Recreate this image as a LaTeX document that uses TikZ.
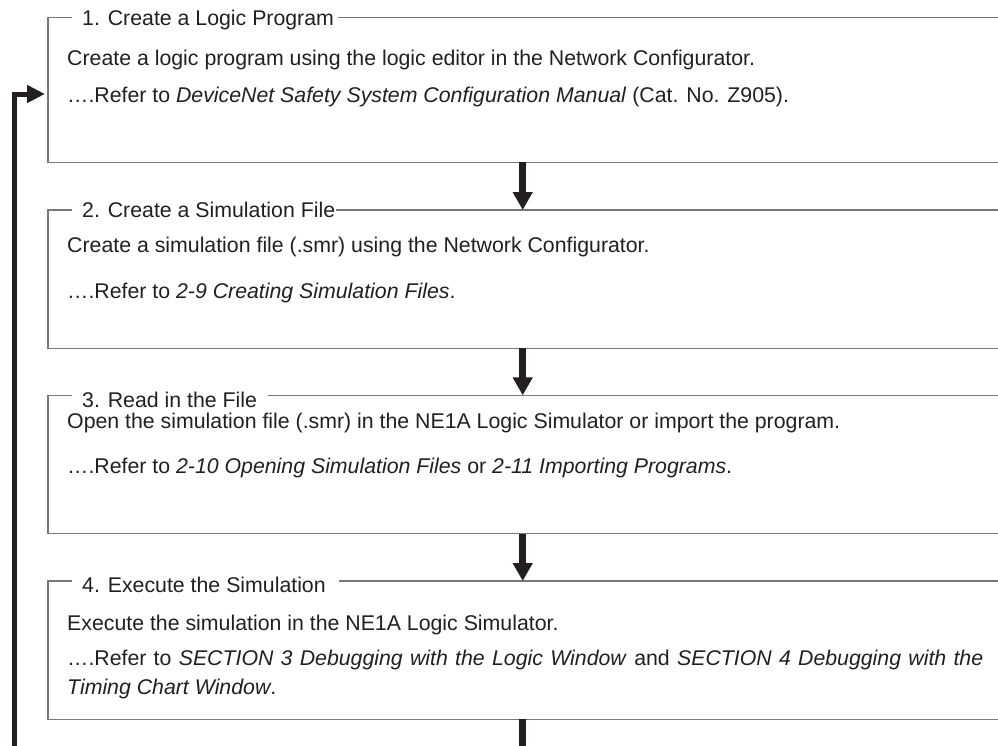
\documentclass[tikz,border=0pt]{standalone}
\usepackage{fontspec}
\setmainfont{Liberation Sans}
\usetikzlibrary{arrows.meta}
\definecolor{ink}{RGB}{35,31,32}
\definecolor{frame}{RGB}{120,120,120}
\begin{document}
\begin{tikzpicture}[x=1pt,y=-1pt,
  font=\fontsize{21.3}{25}\selectfont,
  boxline/.style={draw=frame, line width=1.3pt},
  txt/.style={anchor=base west, inner sep=0pt, text=ink},
  flow/.style={draw=ink, line width=6.5pt, -{Triangle[width=19pt,length=18pt]}},
  stub/.style={draw=ink, line width=6.5pt},
  loopback/.style={draw=ink, line width=5pt, line join=miter, -{Triangle[width=17pt,length=18pt]}}]
\useasboundingbox (0,0) rectangle (998,745);
\clip (0,0) rectangle (998,745);
% ---------- box 1
\draw[boxline] (72,17.7) -| (48,162.3) -- (1010,162.3);
\draw[boxline] (338,17.7) -- (1010,17.7);
\node[txt] (t1) at (82,25.5) {1. Create a Logic Program};
\node[txt] (a1) at (67,65.5) {Create a logic program using the logic editor in the Network Configurator.};
\node[txt] (r1) at (67,102.5) {….Refer to \textit{DeviceNet Safety System Configuration Manual} (Cat. No. Z905).};
\coordinate (b1s) at (522.7,162.3);
\coordinate (b1in) at (45,94);
% ---------- box 2
\draw[boxline] (72,210) -| (48,348.3) -- (1010,348.3);
\draw[boxline] (336,210) -- (1010,210);
\node[txt] (t2) at (82,217) {2. Create a Simulation File};
\node[txt] (a2) at (67,252.5) {Create a simulation file (.smr) using the Network Configurator.};
\node[txt] (r2) at (67,298.5) {….Refer to \textit{2-9 Creating Simulation Files}.};
\coordinate (b2n) at (522.7,210);
\coordinate (b2s) at (522.7,348.3);
% ---------- box 3
\draw[boxline] (72,395.3) -| (48,533.7) -- (1010,533.7);
\draw[boxline] (268,395.3) -- (1010,395.3);
\node[txt] (t3) at (82,407.5) {3. Read in the File};
\node[txt] (a3) at (67,428.5) {Open the simulation file (.smr) in the NE1A Logic Simulator or import the program.};
\node[txt] (r3) at (67,473.5) {….Refer to \textit{2-10 Opening Simulation Files} or \textit{2-11 Importing Programs}.};
\coordinate (b3n) at (522.7,395.3);
\coordinate (b3s) at (522.7,533.7);
% ---------- box 4
\draw[boxline] (72,581) -| (48,719.3) -- (1010,719.3);
\draw[boxline] (339,581) -- (1010,581);
\node[txt] (t4) at (82,592.5) {4. Execute the Simulation};
\node[txt] (a4) at (67,630.5) {Execute the simulation in the NE1A Logic Simulator.};
\node[txt] (r4) at (67,665.5) {\makebox[916pt][s]{….Refer to \textit{SECTION 3 Debugging with the Logic Window} and \textit{SECTION 4 Debugging with the}}};
\node[txt] (r4b) at (67,694.5) {\textit{Timing Chart Window}.};
\coordinate (b4n) at (522.7,581);
\coordinate (b4s) at (522.7,719.3);
\coordinate (bend) at (522.7,750);
\coordinate (loopstart) at (14,750);
% ---------- connectors
\draw[flow] (b1s) -- (b2n);
\draw[flow] (b2s) -- (b3n);
\draw[flow] (b3s) -- (b4n);
\draw[stub] (b4s) -- (bend);
\draw[loopback] (loopstart) |- (b1in);
\end{tikzpicture}
\end{document}
